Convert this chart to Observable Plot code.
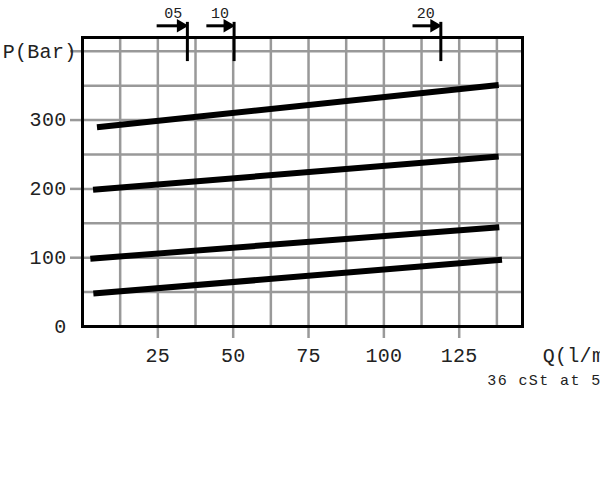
<!DOCTYPE html>
<html>
<head>
<meta charset="utf-8">
<script src="https://cdn.jsdelivr.net/npm/d3@7"></script>
<script src="https://cdn.jsdelivr.net/npm/@observablehq/plot@0.6"></script>
<style>
  html, body { margin: 0; padding: 0; background: #fff; overflow: hidden; }
  #chart svg { display: block; }
  .caption text { letter-spacing: 1.4px; }
  .ticklab text { letter-spacing: 0.3px; }
</style>
</head>
<body>
<div id="chart"></div>
<script>
// Pressure curves P (bar) vs flow Q (l/min): start and end points of each setting line
const seriesNames = ["350", "250", "150", "100"];
const qStart = [4.8, 3.5, 2.6, 3.6];
const qEnd   = [138.1, 138.1, 138.3, 139.2];
const pStart = [289.7, 198.7, 98.6, 47.8];
const pEnd   = [351, 247, 144.3, 97];

// Axis ticks / grid
const xTicks = [25, 50, 75, 100, 125];
const xGrid = [12.5, 25, 37.5, 50, 62.5, 75, 87.5, 100, 112.5, 125, 137.5];
const yTicks = [0, 100, 200, 300];
const yTickMarks = [100, 200, 300, 400];
const yGrid = [50, 100, 150, 200, 250, 300, 350, 400];

// Viscosity markers on top of chart
const markerLabels = ["05", "10", "20"];
const markerQ = [34.8, 50.3, 118.9];
const markerArrowStart = [24.6, 41.1, 109.5];
const markerLabelQ = [30.1, 45.6, 113.9];

const lines = [];
seriesNames.forEach((s, i) => {
  lines.push({series: s, q: qStart[i], p: pStart[i]});
  lines.push({series: s, q: qEnd[i], p: pEnd[i]});
});
const markers = markerLabels.map((l, i) => ({label: l, q: markerQ[i], q0: markerArrowStart[i], lq: markerLabelQ[i]}));

const font = "'Liberation Mono', 'DejaVu Sans Mono', monospace";

const chart = Plot.plot({
  width: 600,
  height: 487,
  marginLeft: 82,
  marginRight: 78,
  marginTop: 37,
  marginBottom: 161,
  style: {fontFamily: font, background: "#fff", overflow: "visible"},
  x: {domain: [0, 146], axis: null},
  y: {domain: [0, 420], axis: null},
  marks: [
    Plot.gridX(xGrid, {stroke: "#999", strokeOpacity: 1, strokeWidth: 2.5}),
    Plot.gridY(yGrid, {stroke: "#999", strokeOpacity: 1, strokeWidth: 2.5}),
    // tick marks outside frame
    Plot.axisX({ticks: xTicks, tickSize: 12, stroke: "#999", strokeWidth: 2.5, text: null, label: null}),
    Plot.axisY({ticks: yTickMarks, tickSize: 12, stroke: "#999", strokeWidth: 2.5, text: null, label: null}),
    Plot.frame({stroke: "#000", strokeWidth: 3}),
    // tick labels
    Plot.text(xTicks, {x: d => d, y: 0, dy: 29, text: d => String(d), lineAnchor: "middle", fontSize: 20, fill: "#222", className: "ticklab"}),
    Plot.text(yTicks, {x: 0, y: d => d, dx: -16, text: d => String(d), textAnchor: "end", lineAnchor: "middle", fontSize: 20, fill: "#222", className: "ticklab"}),
    Plot.text(["P(Bar)"], {x: 0, y: 400, dx: -6, text: d => d, textAnchor: "end", lineAnchor: "middle", fontSize: 20, fill: "#222", className: "ticklab"}),
    Plot.text(["Q(l/min)"], {x: 152.7, y: 0, dy: 29, text: d => d, textAnchor: "start", lineAnchor: "middle", fontSize: 20, fill: "#222", className: "ticklab"}),
    Plot.text(["36 cSt at 50°C"], {x: 134.3, y: 0, dy: 54, text: d => d, textAnchor: "start", lineAnchor: "middle", fontSize: 15, fill: "#222", className: "caption"}),
    // data lines
    Plot.line(lines, {x: "q", y: "p", z: "series", stroke: "#000", strokeWidth: 6, strokeLinecap: "butt"}),
    // viscosity markers
    Plot.ruleX(markers, {x: "q", y1: 385, y2: 442, stroke: "#000", strokeWidth: 3}),
    Plot.link(markers, {x1: "q0", x2: d => d.q - 3, y1: 437, y2: 437, stroke: "#000", strokeWidth: 3}),
    Plot.dot(markers, {x: d => d.q - 2.2, y: 437, symbol: "triangle", rotate: 90, r: 5, fill: "#000", stroke: "none"}),
    Plot.text(markers, {x: "lq", y: 455, text: "label", fontSize: 15, lineAnchor: "middle", fill: "#222"})
  ]
});
document.getElementById("chart").appendChild(chart);
</script>
</body>
</html>
